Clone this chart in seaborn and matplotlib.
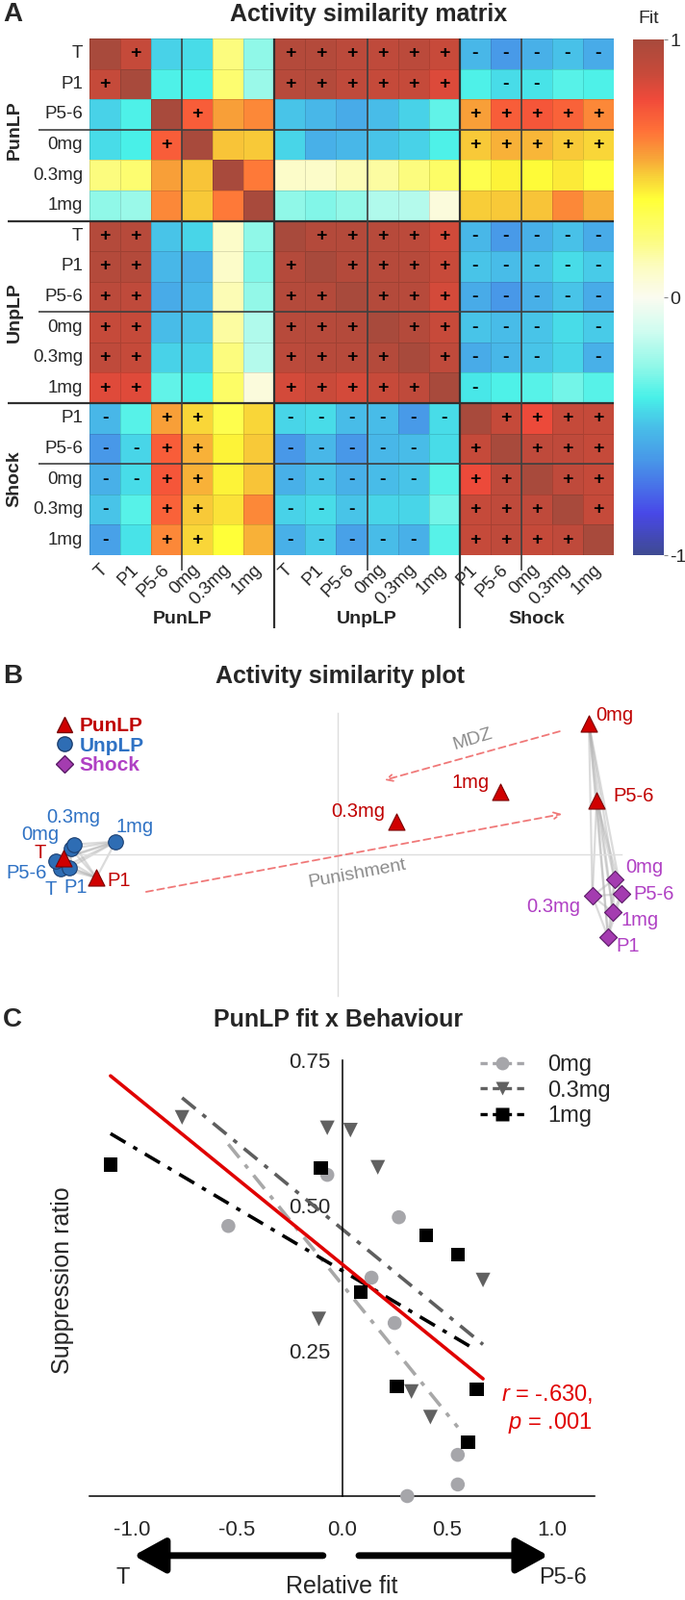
import itertools
import numpy as np
import pandas as pd
import matplotlib
matplotlib.use("Agg")
import matplotlib.pyplot as plt
import seaborn as sns
from matplotlib.colors import LinearSegmentedColormap
from matplotlib.lines import Line2D

sns.set_style("white")
plt.rcParams["font.family"] = ["Liberation Sans", "DejaVu Sans"]
plt.rcParams["mathtext.fontset"] = "custom"
plt.rcParams["mathtext.it"] = "Liberation Sans:italic"
plt.rcParams["mathtext.rm"] = "Liberation Sans"

# ---------------- panel A : similarity matrix ----------------
groups = ["PunLP", "UnpLP", "Shock"]
pun_items = ["T", "P1", "P5-6", "0mg", "0.3mg", "1mg"]
unp_items = ["T", "P1", "P5-6", "0mg", "0.3mg", "1mg"]
shock_items = ["P1", "P5-6", "0mg", "0.3mg", "1mg"]

fit_rows = [
    [1.00, 0.88, -0.46, -0.43, 0.22, -0.27, 0.95, 0.95, 0.92, 0.90, 0.92, 0.87, -0.53, -0.62, -0.55, -0.50, -0.57],
    [0.88, 1.00, -0.38, -0.39, 0.25, -0.25, 0.93, 0.95, 0.90, 0.88, 0.88, 0.82, -0.38, -0.43, -0.42, -0.36, -0.38],
    [-0.46, -0.38, 1.00, 0.71, 0.55, 0.60, -0.49, -0.53, -0.57, -0.51, -0.46, -0.35, 0.55, 0.71, 0.73, 0.69, 0.60],
    [-0.43, -0.39, 0.71, 1.00, 0.49, 0.48, -0.45, -0.55, -0.53, -0.49, -0.46, -0.38, 0.48, 0.52, 0.51, 0.48, 0.46],
    [0.22, 0.25, 0.55, 0.49, 1.00, 0.63, 0.10, 0.10, 0.14, 0.17, 0.22, 0.28, 0.33, 0.40, 0.39, 0.42, 0.36],
    [-0.27, -0.25, 0.60, 0.48, 0.63, 1.00, -0.27, -0.29, -0.26, -0.20, -0.19, 0.05, 0.47, 0.48, 0.49, 0.60, 0.52],
    [0.95, 0.93, -0.49, -0.45, 0.10, -0.27, 1.00, 0.95, 0.95, 0.93, 0.92, 0.85, -0.53, -0.62, -0.55, -0.50, -0.57],
    [0.95, 0.95, -0.53, -0.55, 0.10, -0.29, 0.95, 1.00, 0.95, 0.94, 0.93, 0.87, -0.49, -0.51, -0.49, -0.43, -0.47],
    [0.92, 0.90, -0.57, -0.53, 0.14, -0.26, 0.95, 0.95, 1.00, 0.95, 0.93, 0.84, -0.57, -0.63, -0.55, -0.49, -0.57],
    [0.88, 0.88, -0.51, -0.49, 0.17, -0.20, 0.93, 0.94, 0.95, 1.00, 0.95, 0.87, -0.49, -0.51, -0.49, -0.43, -0.47],
    [0.90, 0.88, -0.46, -0.46, 0.22, -0.19, 0.92, 0.93, 0.93, 0.95, 1.00, 0.90, -0.57, -0.53, -0.49, -0.45, -0.55],
    [0.81, 0.81, -0.35, -0.38, 0.28, 0.05, 0.84, 0.86, 0.84, 0.87, 0.90, 1.00, -0.41, -0.38, -0.36, -0.32, -0.36],
    [-0.53, -0.36, 0.55, 0.46, 0.33, 0.46, -0.45, -0.43, -0.51, -0.51, -0.62, -0.43, 1.00, 0.88, 0.78, 0.88, 0.88],
    [-0.63, -0.45, 0.71, 0.52, 0.40, 0.48, -0.63, -0.53, -0.63, -0.53, -0.51, -0.43, 0.88, 1.00, 0.90, 0.90, 0.88],
    [-0.55, -0.43, 0.73, 0.52, 0.40, 0.49, -0.55, -0.49, -0.55, -0.51, -0.49, -0.36, 0.78, 0.90, 1.00, 0.90, 0.88],
    [-0.49, -0.36, 0.69, 0.48, 0.43, 0.60, -0.46, -0.43, -0.49, -0.45, -0.45, -0.32, 0.88, 0.90, 0.90, 1.00, 0.88],
    [-0.60, -0.42, 0.60, 0.46, 0.38, 0.52, -0.55, -0.47, -0.60, -0.51, -0.55, -0.36, 0.88, 0.90, 0.88, 0.90, 1.00],
]

sign_rows = [
    " +    ++++++-----",
    "+     ++++++ --  ",
    "   +        +++++",
    "  +         +++++",
    "                 ",
    "                 ",
    "++     +++++-----",
    "++    + ++++-----",
    "++    ++ +++-----",
    "++    +++ ++--- -",
    "++    ++++ +--- -",
    "++    +++++ -    ",
    "- ++  ------ ++++",
    "--++  ----- + +++",
    "--++  ----- ++ ++",
    "- ++  ---   +++ +",
    "- ++  ----- ++++ ",
]

# ---------------- panel B : similarity plot ----------------
pun_x = [-3.87, -3.40, 3.65, 3.54, 0.83, 2.29]
pun_y = [-0.05, -0.33, 0.76, 1.85, 0.46, 0.88]
unp_x = [-3.90, -3.78, -3.97, -3.76, -3.72, -3.13]
unp_y = [-0.20, -0.19, -0.10, 0.08, 0.14, 0.18]
shock_x = [3.81, 4.00, 3.90, 3.59, 3.88]
shock_y = [-1.17, -0.56, -0.35, -0.59, -0.82]

# ---------------- panel C : fit vs behaviour ----------------
dose_0_x = [-0.54, -0.07, 0.27, 0.14, 0.25, 0.55, 0.55, 0.31]
dose_0_y = [0.465, 0.553, 0.480, 0.376, 0.298, 0.071, 0.020, 0.000]
dose_03_x = [-0.76, -0.07, 0.04, 0.17, 0.67, -0.11, 0.33, 0.42]
dose_03_y = [0.652, 0.634, 0.630, 0.566, 0.372, 0.305, 0.180, 0.136]
dose_1_x = [-1.10, -0.10, 0.40, 0.55, 0.09, 0.26, 0.64, 0.60]
dose_1_y = [0.571, 0.565, 0.449, 0.416, 0.351, 0.189, 0.184, 0.093]
dose_names = ["0mg", "0.3mg", "1mg"]

W, H = 712, 1663
fig = plt.figure(figsize=(W / 100, H / 100), dpi=100)


def fx(px):
    return px / W


def fy(py):
    return 1 - py / H


# ======== A ========
fit_cmap = LinearSegmentedColormap.from_list("fit", [
    (0.0, "#3f4a92"), (0.08, "#4848e8"), (0.13, "#4870e8"), (0.185, "#4898e8"),
    (0.25, "#48c0e8"), (0.305, "#48f0e8"), (0.365, "#90f8e8"), (0.435, "#d0fcf0"),
    (0.5, "#fbfbf0"), (0.56, "#fcfcc0"), (0.61, "#fcfc80"), (0.69, "#ffff38"),
    (0.735, "#f8d038"), (0.775, "#f8a038"), (0.825, "#ff7038"), (0.885, "#f04a3a"),
    (0.935, "#c84a3a"), (1.0, "#a84a3c")])

labels = pun_items + unp_items + shock_items
sizes = [len(pun_items), len(unp_items), len(shock_items)]
fit = np.array(fit_rows)
annot = np.array([list(s) for s in sign_rows])

axA = fig.add_axes([fx(93), fy(577), fx(545), 537 / H])
caxA = fig.add_axes([fx(658), fy(577), fx(32), 536 / H])
sns.heatmap(fit, ax=axA, cbar_ax=caxA, cmap=fit_cmap, vmin=-1, vmax=1,
            annot=annot, fmt="", annot_kws=dict(fontsize=14, fontweight="bold", color="black"),
            linewidths=0.6, linecolor=(0, 0, 0, 0.12),
            xticklabels=labels, yticklabels=labels)
axA.tick_params(length=0, labelsize=13.5)
axA.set_yticklabels(labels, rotation=0)
axA.set_xticklabels(labels, rotation=45, ha="right", va="center", rotation_mode="anchor")
axA.tick_params(axis="x", pad=9)
axA.tick_params(axis="y", pad=5)

n = len(labels)
edges = np.cumsum(sizes)[:-1]
starts = np.concatenate([[0], np.cumsum(sizes)[:-1]])
subs = [s + items.index("0mg") for s, items in zip(starts, [pun_items, unp_items, shock_items])]
for b in edges:
    axA.hlines(b, -2.65, n, color="#303030", lw=1.6, clip_on=False)
    axA.vlines(b, 0, 19.4, color="#303030", lw=1.6, clip_on=False)
for b in subs:
    axA.hlines(b, -1.65, n, color="#404040", lw=1.2, clip_on=False)
    axA.vlines(b, 0, 17.5, color="#404040", lw=1.2, clip_on=False)
for g, s, size in zip(groups, starts, sizes):
    axA.text(s + size / 2, 19.1, g, ha="center", va="center", fontsize=14, fontweight="bold")
    axA.text(-2.43, s + size / 2, g, ha="center", va="center", rotation=90,
             fontsize=14, fontweight="bold")

cbar = axA.collections[0].colorbar
cbar.outline.set_visible(False)
cbar.set_ticks([-1, 0, 1])
cbar.set_ticklabels(["-1", "0", "1"])
caxA.tick_params(labelsize=14, length=3, width=0.8, color="#888888", pad=1.5)
caxA.set_title("Fit", fontsize=14, pad=12)

fig.text(fx(383), fy(15), "Activity similarity matrix", ha="center", va="center",
         fontsize=18, fontweight="bold")
fig.text(fx(13), fy(15), "A", ha="center", va="center", fontsize=20, fontweight="bold")

# ======== B ========
pun_col, unp_col, shock_col = "#d00000", "#2e6db4", "#a43cb0"
pun_txt, unp_txt, shock_txt = "#c00000", "#2f72c4", "#b040c4"

axB = fig.add_axes([0, fy(1040), 1, 310 / H])
axB.set_xlim(-351 / 73.75, (W - 351) / 73.75)
axB.set_ylim((888 - 1040) / 73.5, (888 - 730) / 73.5)
for side in ["top", "right"]:
    axB.spines[side].set_visible(False)
axB.spines["left"].set_position(("data", 0))
axB.spines["bottom"].set_position(("data", 0))
axB.spines["left"].set_bounds(-2, 2)
axB.spines["bottom"].set_bounds(-4, 4)
for side in ["left", "bottom"]:
    axB.spines[side].set_color("#dddddd")
    axB.spines[side].set_linewidth(1)
axB.set_xticks(range(-4, 5))
axB.set_yticks(range(-2, 3))
axB.tick_params(direction="in", length=7, color="#dddddd", labelbottom=False, labelleft=False)

# connections within the two clusters
left_cluster = list(zip(unp_x, unp_y)) + list(zip(pun_x[:2], pun_y[:2]))
right_cluster = list(zip(shock_x, shock_y)) + list(zip(pun_x[2:4], pun_y[2:4]))
for cluster in [left_cluster, right_cluster]:
    for (x1, y1), (x2, y2) in itertools.combinations(cluster, 2):
        axB.plot([x1, x2], [y1, y2], color="#b0b0b0", alpha=0.45, lw=1.6, zorder=1)

# dashed trend arrows
mdz_tail, mdz_head = (3.13, 1.74), (0.66, 1.05)
pun_tail, pun_head = (-2.70, -0.53), (3.16, 0.57)
for tail, head in [(mdz_tail, mdz_head), (pun_tail, pun_head)]:
    axB.annotate("", xy=head, xytext=tail,
                 arrowprops=dict(arrowstyle="->", ls=(0, (4, 2.5)), color="#f07878", lw=1.3,
                                 shrinkA=0, shrinkB=0, mutation_scale=12))
axB.text(1.90, 1.63, "MDZ", color="#8c8c8c", fontsize=14, rotation=17, ha="center", va="center")
axB.text(0.28, -0.27, "Punishment", color="#8c8c8c", fontsize=14, rotation=10.5,
         ha="center", va="center")

sns.scatterplot(x=unp_x, y=unp_y, ax=axB, marker="o", s=125, color=unp_col,
                edgecolor="#1c3f70", linewidth=0.8, zorder=3)
sns.scatterplot(x=pun_x, y=pun_y, ax=axB, marker="^", s=150, color=pun_col,
                edgecolor="#7a0000", linewidth=0.8, zorder=4)
sns.scatterplot(x=shock_x, y=shock_y, ax=axB, marker="D", s=85, color=shock_col,
                edgecolor="#5a1a66", linewidth=0.8, zorder=4)

pun_offsets = [(-24, 5), (23, -3), (38, 5), (27, 9), (-40, 11), (-31, 10)]
unp_offsets = [(-11, -22), (6, -21), (-31, -12), (-32, 15), (0, 28), (20, 15)]
shock_offsets = [(21, -10), (34, 0), (31, 12), (-41, -11), (28, -8)]
for xs, ys, names, offs, col in [(pun_x, pun_y, pun_items, pun_offsets, pun_txt),
                                  (unp_x, unp_y, unp_items, unp_offsets, unp_txt),
                                  (shock_x, shock_y, shock_items, shock_offsets, shock_txt)]:
    for x, y, name, (dx, dy) in zip(xs, ys, names, offs):
        axB.annotate(name, (x, y), xytext=(dx * 0.72, dy * 0.72), textcoords="offset points",
                     ha="center", va="center", color=col, fontsize=14.5, zorder=5)

handles = [Line2D([], [], ls="", marker="^", ms=11, color=pun_col, mec="#7a0000"),
           Line2D([], [], ls="", marker="o", ms=11, color=unp_col, mec="#1c3f70"),
           Line2D([], [], ls="", marker="D", ms=9, color=shock_col, mec="#5a1a66")]
legB = axB.legend(handles, groups, loc="upper left", bbox_to_anchor=(fx(48), 0.985), frameon=False,
                  handlelength=0.8, handletextpad=0.35, labelspacing=0.08, borderpad=0,
                  prop=dict(size=15, weight="bold"))
for t, c in zip(legB.get_texts(), [pun_txt, unp_txt, shock_txt]):
    t.set_color(c)

fig.text(fx(353), fy(703), "Activity similarity plot", ha="center", va="center",
         fontsize=18, fontweight="bold")
fig.text(fx(13), fy(703), "B", ha="center", va="center", fontsize=20, fontweight="bold")

# ======== C ========
axC = fig.add_axes([fx(93), fy(1555), fx(525), 483 / H])
axC.set_xlim(-1.2, 1.2)
axC.set_ylim(0, 0.8)

dose_x = [dose_0_x, dose_03_x, dose_1_x]
dose_y = [dose_0_y, dose_03_y, dose_1_y]
dose_cols = ["#a6a6aa", "#616161", "#000000"]
dose_line_cols = ["#a8a8a8", "#5e5e5e", "#000000"]
dose_markers = ["o", "v", "s"]
dose_sizes = [110, 120, 110]
dashdot = (0, (5, 2.6, 1.3, 2.6))

behav = pd.DataFrame({
    "fit": sum(dose_x, []),
    "ratio": sum(dose_y, []),
    "dose": sum([[d] * len(x) for d, x in zip(dose_names, dose_x)], []),
})

for d, lc in zip(dose_names, dose_line_cols):
    sub = behav[behav["dose"] == d]
    sns.regplot(data=sub, x="fit", y="ratio", ax=axC, scatter=False, ci=None, truncate=True,
                color=lc, line_kws=dict(ls=dashdot, lw=2.6, zorder=2))
sns.regplot(data=behav, x="fit", y="ratio", ax=axC, scatter=False, ci=None, truncate=True,
            color="#e00000", line_kws=dict(lw=2.6, zorder=3))
for d, c, m, s in zip(dose_names, dose_cols, dose_markers, dose_sizes):
    sub = behav[behav["dose"] == d]
    sns.scatterplot(data=sub, x="fit", y="ratio", ax=axC, marker=m, s=s, color=c,
                    edgecolor="none", zorder=4)
    axC.collections[-1].set_clip_on(False)

for side in ["top", "right"]:
    axC.spines[side].set_visible(False)
axC.spines["left"].set_position(("data", 0))
axC.spines["bottom"].set_position(("data", 0))
axC.spines["left"].set_bounds(0, 0.75)
axC.spines["bottom"].set_bounds(-1.2, 1.2)
for side in ["left", "bottom"]:
    axC.spines[side].set_color("black")
    axC.spines[side].set_linewidth(1.1)
axC.set_xticks([-1.0, -0.5, 0.0, 0.5, 1.0])
axC.set_xticklabels(["-1.0", "-0.5", "0.0", "0.5", "1.0"])
axC.set_yticks([0.25, 0.50, 0.75])
axC.set_yticklabels(["0.25", "0.50", "0.75"])
axC.tick_params(axis="both", direction="out", labelsize=16, width=1.1, color="black")
axC.tick_params(axis="x", length=10, pad=8)
axC.tick_params(axis="y", length=7, pad=2)
axC.set_xlabel("")
axC.set_ylabel("Suppression ratio", fontsize=18)
axC.yaxis.set_label_coords(-0.03, 0.465)

legC_handles = [Line2D([], [], color=c, ls=(0, (2.2, 1.6)), lw=2.4, marker=m, ms=10, mec="none")
                for c, m in zip(dose_cols, dose_markers)]
axC.legend(legC_handles, dose_names, loc="upper left", bbox_to_anchor=(0.75, 0.975), frameon=False,
           fontsize=17, handlelength=2.0, handletextpad=1.0, labelspacing=0.2, borderpad=0)

axC.text(1.19, 0.176, r"$r$ = -.630,", color="#e00000", fontsize=17, ha="right", va="center")
axC.text(1.19, 0.126, r"$p$ = .001", color="#e00000", fontsize=17, ha="right", va="center")

xt = axC.get_xaxis_transform()
arrow_kw = dict(arrowstyle="-|>,head_length=1.0,head_width=0.55", lw=5, color="black",
                shrinkA=0, shrinkB=0, mutation_scale=20)
axC.annotate("", xy=(-0.99, -0.128), xytext=(-0.09, -0.128), xycoords=xt, textcoords=xt,
             arrowprops=arrow_kw, annotation_clip=False)
axC.annotate("", xy=(0.98, -0.128), xytext=(0.08, -0.128), xycoords=xt, textcoords=xt,
             arrowprops=arrow_kw, annotation_clip=False)
axC.text(-1.04, -0.176, "T", transform=xt, ha="center", va="center", fontsize=17)
axC.text(1.05, -0.176, "P5-6", transform=xt, ha="center", va="center", fontsize=17)
axC.text(0.0, -0.195, "Relative fit", transform=xt, ha="center", va="center", fontsize=18)

fig.text(fx(352), fy(1060), "PunLP fit x Behaviour", ha="center", va="center",
         fontsize=18, fontweight="bold")
fig.text(fx(13), fy(1060), "C", ha="center", va="center", fontsize=20, fontweight="bold")

fig.savefig("out.png", dpi=100)
